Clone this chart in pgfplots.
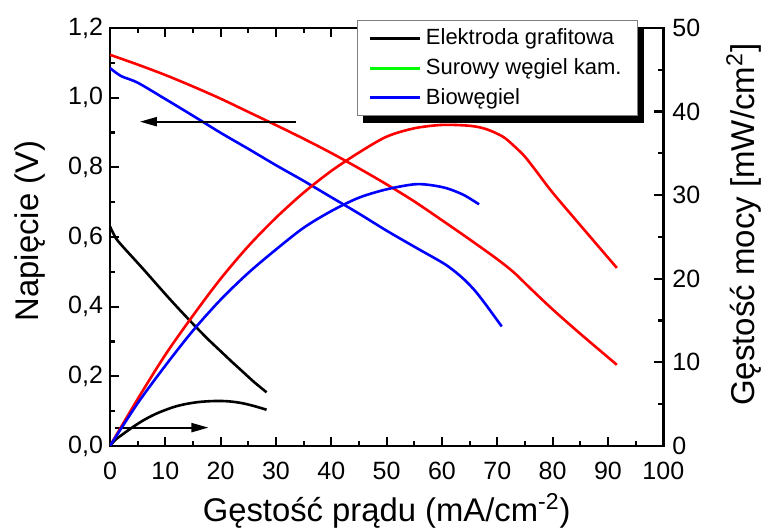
\documentclass[border=0pt]{standalone}
\usepackage{fontspec}
\setmainfont{Liberation Sans}
\usepackage{pgfplots}
\pgfplotsset{compat=1.18}
\usetikzlibrary{arrows.meta,backgrounds}

\definecolor{cRed}{RGB}{255,0,0}
\definecolor{cBlue}{RGB}{0,0,255}
\definecolor{cGreen}{RGB}{0,255,0}

\pgfplotsset{
  base/.style={
    scale only axis, width=276.7pt, height=209pt,
    xmin=0, xmax=100,
    axis line style={line width=1.3pt},
    every tick/.style={black, line width=1.1pt},
    major tick length=4.5pt, minor tick length=2.5pt,
    tick align=inside,
    tick label style={font=\fontsize{12.5}{15}\selectfont},
    /pgf/number format/assume math mode=true,
  },
  curve/.style={line width=1.3pt, smooth, no markers},
}

\begin{document}
\begin{tikzpicture}
% left axis: voltage
\begin{axis}[base, name=ax,
  ymin=0, ymax=1.2,
  xtick={0,10,20,30,40,50,60,70,80,90,100}, minor x tick num=1,
  ytick={0,0.2,0.4,0.6,0.8,1.0,1.2}, minor y tick num=1,
  xtick pos=both, ytick pos=left,
  yticklabel style={/pgf/number format/.cd, fixed, fixed zerofill, precision=1, use comma},
  xticklabel style={yshift=-4.3pt},
  xlabel={Gęstość prądu (mA/cm\textsuperscript{-2})},
  xlabel style={at={(axis description cs:0.5,-0.1818)}, anchor=base, font=\fontsize{16.4}{19}\selectfont},
  ylabel={Napięcie (V)},
  ylabel style={at={(axis description cs:-0.130,0.514)}, anchor=base, font=\fontsize{16.4}{19}\selectfont},
]
\addplot[curve, black] coordinates {
  (0,0.63) (1,0.598) (2,0.578) (4,0.543) (6,0.508) (8,0.472) (10,0.436)
  (12,0.401) (14,0.367) (16,0.334) (18,0.302) (20,0.272) (22,0.242)
  (24,0.213) (26,0.184) (28.3,0.154)};
\addplot[curve, cRed] coordinates {
  (0,1.123) (5,1.095) (10,1.065) (15,1.032) (20,0.997) (25,0.959) (30,0.921)
  (35,0.882) (40,0.841) (45,0.797) (50,0.751) (55,0.702) (60,0.648)
  (65,0.593) (70,0.536) (73,0.498) (76,0.452) (80,0.392) (85,0.322) (91.6,0.233)};
\addplot[curve, cBlue] coordinates {
  (0,1.085) (2,1.062) (5,1.043) (10,0.996) (15,0.948) (20,0.899) (25,0.853)
  (30,0.806) (35,0.761) (40,0.714) (45,0.667) (50,0.618) (55,0.572)
  (60,0.527) (62,0.505) (64,0.478) (66,0.445) (68,0.404) (70.8,0.343)};
\draw[line width=1pt, -{Triangle[length=8.5pt,width=4.5pt]}]
  (axis cs:33.7,0.931) -- (axis cs:5.4,0.931);
\draw[line width=1pt, -{Triangle[length=8.5pt,width=4.5pt]}]
  (axis cs:0.9,0.0526) -- (axis cs:17.8,0.0526);
\end{axis}
% right axis: power density
\begin{axis}[base,
  ymin=0, ymax=50,
  axis x line=none, axis y line*=right,
  ytick={0,10,20,30,40,50}, minor y tick num=1,
  yticklabel style={xshift=1pt},
  ylabel={Gęstość mocy [mW/cm\textsuperscript{2}]},
  ylabel style={at={(axis description cs:1.1657,0.529)}, anchor=base, font=\fontsize{16.5}{19}\selectfont},
  legend style={name=leg, at={(axis description cs:0.446,1.019)}, anchor=north west,
    draw=gray, line width=0.6pt, fill=white,
    font=\fontsize{11}{13}\selectfont,
    inner xsep=5.8pt, inner ysep=2.2pt, row sep=1.3pt,
    /tikz/every even column/.append style={column sep=6pt}},
  legend cell align=left,
  legend image code/.code={
    \draw[#1, line width=1.5pt] (0pt,0pt) -- (25pt,0pt);},
]
\addplot[curve, black, forget plot] coordinates {
  (0,0) (1,0.75) (2,1.25) (4,2.2) (6,3.05) (8,3.75) (10,4.3) (12,4.75)
  (14,5.05) (16,5.25) (18,5.35) (20,5.38) (22,5.3) (24,5.1) (26,4.78) (28.3,4.33)};
\addplot[curve, cRed, forget plot] coordinates {
  (0,0) (5,5.6) (10,10.9) (15,15.6) (20,20) (25,23.9) (30,27.3) (35,30.3)
  (40,32.9) (45,35.1) (50,37.0) (55,38.0) (60,38.4) (65,38.3) (68,37.9)
  (71,37.0) (73,35.9) (75,34.6) (77,32.9) (80,30.3) (85,26.4) (91.6,21.3)};
\addplot[curve, cBlue, forget plot] coordinates {
  (0,0) (5,5.1) (10,9.6) (15,13.8) (20,17.5) (25,20.7) (30,23.5) (35,26.1)
  (40,28.1) (45,29.7) (50,30.7) (55,31.3) (58,31.2) (61,30.8) (64,30.0)
  (66.7,28.9)};
\addlegendimage{black}
\addlegendentry{Elektroda grafitowa}
\addlegendimage{cGreen}
\addlegendentry{Surowy węgiel kam.}
\addlegendimage{cBlue}
\addlegendentry{Biowęgiel}
\end{axis}
\begin{pgfonlayer}{background}
\fill[black] ([xshift=3.3pt,yshift=-3.3pt]leg.south west) rectangle ([xshift=3.3pt,yshift=-3.3pt]leg.north east);
\end{pgfonlayer}
\pgfresetboundingbox
\path ([xshift=-55pt,yshift=-41pt]ax.south west) rectangle ([xshift=49.35pt,yshift=14pt]ax.north east);
\end{tikzpicture}
\end{document}
